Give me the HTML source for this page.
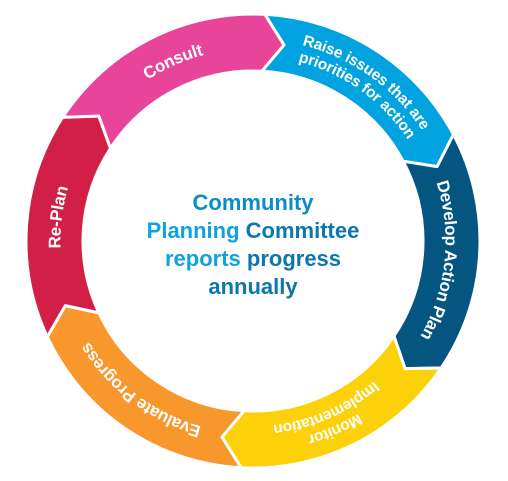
<!DOCTYPE html>
<html><head><meta charset="utf-8"><style>
html,body{margin:0;padding:0;background:#fff;width:508px;height:481px;overflow:hidden}
svg{display:block}
</style></head><body>
<svg id="c" width="508" height="481" viewBox="0 0 508 481">
<g id="segs"></g>
<g font-family="Liberation Sans, sans-serif" font-weight="bold" font-size="22" text-anchor="middle">
<text x="253" y="210" fill="#0a8cc6">Community</text>
<text x="253" y="238"><tspan fill="#10a2dc">Planning </tspan><tspan fill="#0b77aa">Committee</tspan></text>
<text x="253" y="266"><tspan fill="#10a2dc">reports </tspan><tspan fill="#0b77aa">progress</tspan></text>
<text x="253" y="294" fill="#0b77aa">annually</text>
</g>
</svg>
<script>
const labels=[["Consult"],["Raise issues that are","priorities for action"],["Develop Action Plan"],["Monitor","Implementation"],["Evaluate Progress"],["Re-Plan"]];
const names=["consult","raise-issues","develop-action-plan","monitor-implementation","evaluate-progress","re-plan"];
const startAngles=[303,3,62,124,183,245];
const spans=[60,59,62,59,62,58];
const colors=["#E8449A","#00A3DF","#04557F","#FDD10A","#F7972C","#D21F46"];
const cx=253,cy=241,RO=227,RI=170,RM=(RO+RI)/2,D=6;
const NS="http://www.w3.org/2000/svg";
const g=document.getElementById('segs');
const svg=document.getElementById('c');
function pt(r,a){const t=a*Math.PI/180;return [(cx+r*Math.sin(t)).toFixed(2),(cy-r*Math.cos(t)).toFixed(2)];}
const defs=document.createElementNS(NS,'defs');svg.insertBefore(defs,svg.firstChild);
labels.forEach((lab,i)=>{
 const a0=startAngles[i],a1=a0+spans[i];
 const o0=pt(RO,a0),o1=pt(RO,a1),t1=pt(RM,a1+D),i1=pt(RI,a1),i0=pt(RI,a0),n0=pt(RM,a0+D);
 const d=`M${o0} A${RO},${RO} 0 0 1 ${o1} L${t1} L${i1} A${RI},${RI} 0 0 0 ${i0} L${n0} Z`;
 const p=document.createElementNS(NS,'path');
 p.setAttribute('d',d);p.setAttribute('fill',colors[i]);p.setAttribute('stroke','#fff');p.setAttribute('stroke-width','3');p.setAttribute('stroke-linejoin','round');
 
 
 g.appendChild(p);
 const n=lab.length;
 lab.forEach((line,j)=>{
  const r=RM+(n>1?((n-1)/2-j)*17:0);
  const s=pt(r,a0+D/2-20),e=pt(r,a1+D/2+20);
  const id='tp'+i+'_'+j;
  const ap=document.createElementNS(NS,'path');ap.setAttribute('id',id);
  ap.setAttribute('d',`M${s} A${r},${r} 0 0 1 ${e}`);defs.appendChild(ap);
  const tx=document.createElementNS(NS,'text');
  tx.setAttribute('font-family','Liberation Sans, sans-serif');tx.setAttribute('font-weight','bold');
  tx.setAttribute('font-size',n>1?'15.5':'17');tx.setAttribute('fill','#fff');tx.setAttribute('dominant-baseline','central');
  
  
  const tp=document.createElementNS(NS,'textPath');tp.setAttribute('href','#'+id);
  tp.setAttribute('startOffset','50%');tp.setAttribute('text-anchor','middle');tp.textContent=line;
  tx.appendChild(tp);g.appendChild(tx);
 });
});
</script>
</body></html>
